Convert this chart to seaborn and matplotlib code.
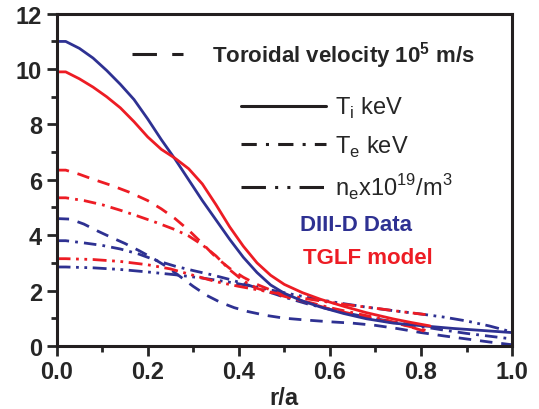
import matplotlib
matplotlib.use("Agg")
import matplotlib.pyplot as plt
from matplotlib.lines import Line2D
from matplotlib.ticker import MultipleLocator, FormatStrFormatter
import pandas as pd
import seaborn as sns

# DIII-D data (blue)
x_ti_d3d = [0, 0.02, 0.05, 0.08, 0.11, 0.14, 0.17, 0.20, 0.23, 0.26, 0.29, 0.32, 0.35, 0.38, 0.41,
            0.44, 0.47, 0.50, 0.54, 0.58, 0.63, 0.68, 0.74, 0.80, 0.87, 0.94, 1.0]
y_ti_d3d = [11.0, 11.0, 10.75, 10.4, 9.95, 9.45, 8.9, 8.2, 7.45, 6.75, 6.0, 5.25, 4.55, 3.85, 3.2,
            2.65, 2.2, 1.9, 1.62, 1.4, 1.17, 0.98, 0.82, 0.73, 0.63, 0.55, 0.48]

x_vt_d3d = [0, 0.03, 0.06, 0.09, 0.12, 0.15, 0.18, 0.21, 0.24, 0.27, 0.30, 0.33, 0.36, 0.39, 0.42,
            0.46, 0.50, 0.55, 0.60, 0.65, 0.70, 0.75, 0.80, 0.85, 0.90, 0.95, 1.0]
y_vt_d3d = [4.6, 4.58, 4.4, 4.15, 3.92, 3.7, 3.45, 3.18, 2.88, 2.52, 2.15, 1.82, 1.57, 1.38, 1.24,
            1.1, 1.0, 0.93, 0.87, 0.82, 0.74, 0.62, 0.48, 0.36, 0.25, 0.14, 0.04]

x_te_d3d = [0, 0.02, 0.06, 0.10, 0.14, 0.18, 0.22, 0.26, 0.30, 0.34, 0.38, 0.42, 0.46, 0.50, 0.55,
            0.60, 0.65, 0.70, 0.75, 0.80, 0.85, 0.90, 0.95, 1.0]
y_te_d3d = [3.8, 3.8, 3.72, 3.63, 3.5, 3.32, 3.08, 2.88, 2.72, 2.57, 2.4, 2.2, 1.98, 1.76, 1.52,
            1.32, 1.14, 0.98, 0.84, 0.7, 0.57, 0.45, 0.35, 0.25]

x_ne_d3d = [0, 0.02, 0.08, 0.14, 0.20, 0.26, 0.32, 0.38, 0.44, 0.50, 0.56, 0.62, 0.68, 0.74, 0.80,
            0.85, 0.90, 0.95, 1.0]
y_ne_d3d = [2.85, 2.85, 2.82, 2.76, 2.67, 2.57, 2.45, 2.3, 2.12, 1.92, 1.72, 1.55, 1.4, 1.27, 1.15,
            1.04, 0.9, 0.72, 0.5]

# TGLF model (red)
x_ti_tglf = [0, 0.02, 0.05, 0.08, 0.11, 0.14, 0.17, 0.20, 0.23, 0.26, 0.29, 0.32, 0.35, 0.38, 0.41,
             0.44, 0.47, 0.50, 0.54, 0.58, 0.63, 0.68, 0.74, 0.78, 0.82]
y_ti_tglf = [9.9, 9.9, 9.65, 9.35, 9.0, 8.6, 8.1, 7.55, 7.1, 6.78, 6.4, 5.85, 5.1, 4.3, 3.6,
             3.0, 2.55, 2.22, 1.92, 1.68, 1.43, 1.2, 0.97, 0.84, 0.72]

x_vt_tglf = [0, 0.02, 0.05, 0.08, 0.12, 0.16, 0.20, 0.23, 0.26, 0.29, 0.32, 0.35, 0.38, 0.41, 0.44,
             0.48, 0.52, 0.56, 0.60, 0.65, 0.70, 0.75, 0.81]
y_vt_tglf = [6.35, 6.35, 6.2, 6.02, 5.8, 5.55, 5.25, 4.95, 4.6, 4.18, 3.7, 3.2, 2.8, 2.48, 2.22,
             1.95, 1.72, 1.52, 1.33, 1.15, 0.97, 0.8, 0.56]

x_te_tglf = [0, 0.02, 0.06, 0.10, 0.14, 0.18, 0.22, 0.26, 0.29, 0.32, 0.35, 0.38, 0.41, 0.44, 0.48,
             0.52, 0.56, 0.60, 0.65, 0.70, 0.75, 0.81]
y_te_tglf = [5.35, 5.35, 5.25, 5.1, 4.9, 4.68, 4.45, 4.2, 3.97, 3.65, 3.25, 2.75, 2.35, 2.08, 1.88,
             1.7, 1.55, 1.38, 1.2, 1.02, 0.82, 0.52]

x_ne_tglf = [0, 0.02, 0.08, 0.14, 0.20, 0.25, 0.30, 0.35, 0.40, 0.45, 0.50, 0.55, 0.60, 0.65, 0.70,
             0.75, 0.81]
y_ne_tglf = [3.15, 3.15, 3.12, 3.05, 2.93, 2.78, 2.55, 2.32, 2.15, 2.0, 1.85, 1.7, 1.57, 1.46, 1.36,
             1.25, 1.13]

blue = "#2E3192"
red = "#ED1C24"

ls_vt = (0, (4.5, 3.2))
ls_ti = "-"
ls_te = (0, (4.5, 2.2, 1, 2.2))
ls_ne = (0, (5, 2, 1, 2, 1, 2))

sns.set_style("white")
plt.rcParams["font.family"] = ["Liberation Sans", "DejaVu Sans"]

fig = plt.figure(figsize=(5.39, 4.10), dpi=100)
ax = fig.add_axes([0.105, 0.154, 0.845, 0.81])

curves = [
    (x_vt_d3d, y_vt_d3d, blue, ls_vt),
    (x_te_d3d, y_te_d3d, blue, ls_te),
    (x_ne_d3d, y_ne_d3d, blue, ls_ne),
    (x_vt_tglf, y_vt_tglf, red, ls_vt),
    (x_te_tglf, y_te_tglf, red, ls_te),
    (x_ne_tglf, y_ne_tglf, red, ls_ne),
    (x_ti_d3d, y_ti_d3d, blue, ls_ti),
    (x_ti_tglf, y_ti_tglf, red, ls_ti),
]
for xs, ys, col, ls in curves:
    df = pd.DataFrame({"r": xs, "v": ys})
    sns.lineplot(data=df, x="r", y="v", ax=ax, color=col, linestyle=ls,
                 linewidth=2.0, estimator=None, sort=False)

ax.set_xlim(0, 1.0)
ax.set_ylim(0, 12)
ax.xaxis.set_major_locator(MultipleLocator(0.2))
ax.xaxis.set_minor_locator(MultipleLocator(0.1))
ax.yaxis.set_major_locator(MultipleLocator(2))
ax.yaxis.set_minor_locator(MultipleLocator(1))
ax.xaxis.set_major_formatter(FormatStrFormatter("%.1f"))
ax.tick_params(axis="both", which="major", direction="out", length=7, width=2,
               labelsize=17, bottom=True, left=True, top=False, right=False)
ax.tick_params(axis="both", which="minor", direction="out", length=4, width=2,
               bottom=True, left=True, top=False, right=False)
for lab in ax.get_xticklabels() + ax.get_yticklabels():
    lab.set_fontweight("bold")
for sp in ax.spines.values():
    sp.set_linewidth(2.2)
    sp.set_color("#231F20")
ax.set_xlabel("r/a", fontsize=17, fontweight="bold", labelpad=2)
ax.set_ylabel("")

# legend: toroidal velocity
h_vt = [Line2D([], [], color="#231F20", lw=2.2, linestyle=(0, (8, 5)))]
leg1 = ax.legend(h_vt, [r"Toroidal velocity 10$^\mathregular{5}$ m/s"], loc="center left",
                 bbox_to_anchor=(0.165, 0.876), frameon=False, handlelength=2.3,
                 handletextpad=1.3, borderpad=0, borderaxespad=0,
                 prop={"weight": "bold", "size": 16})
ax.add_artist(leg1)

h_prof = [
    Line2D([], [], color="#231F20", lw=2.2, linestyle="-"),
    Line2D([], [], color="#231F20", lw=2.2, linestyle=(0, (5, 3, 1, 3))),
    Line2D([], [], color="#231F20", lw=2.2, linestyle=(0, (8, 3, 1, 3, 1, 3))),
]
lab_prof = [r"T$_\mathregular{i}$ keV", r"T$_\mathregular{e}$ keV",
            r"n$_\mathregular{e}$x10$^\mathregular{19}$/m$^\mathregular{3}$"]
ax.legend(h_prof, lab_prof, loc="upper left", bbox_to_anchor=(0.405, 0.755),
          frameon=False, handlelength=3.6, handletextpad=0.4, borderpad=0,
          borderaxespad=0, labelspacing=0.55,
          prop={"family": ["Liberation Sans", "DejaVu Sans"], "size": 17})

ax.text(0.534, 0.364, "DIII-D Data", transform=ax.transAxes, color=blue,
        fontsize=16, fontweight="bold", va="center", ha="left")
ax.text(0.541, 0.267, "TGLF model", transform=ax.transAxes, color=red,
        fontsize=16, fontweight="bold", va="center", ha="left")

fig.savefig("out.png", dpi=100)
